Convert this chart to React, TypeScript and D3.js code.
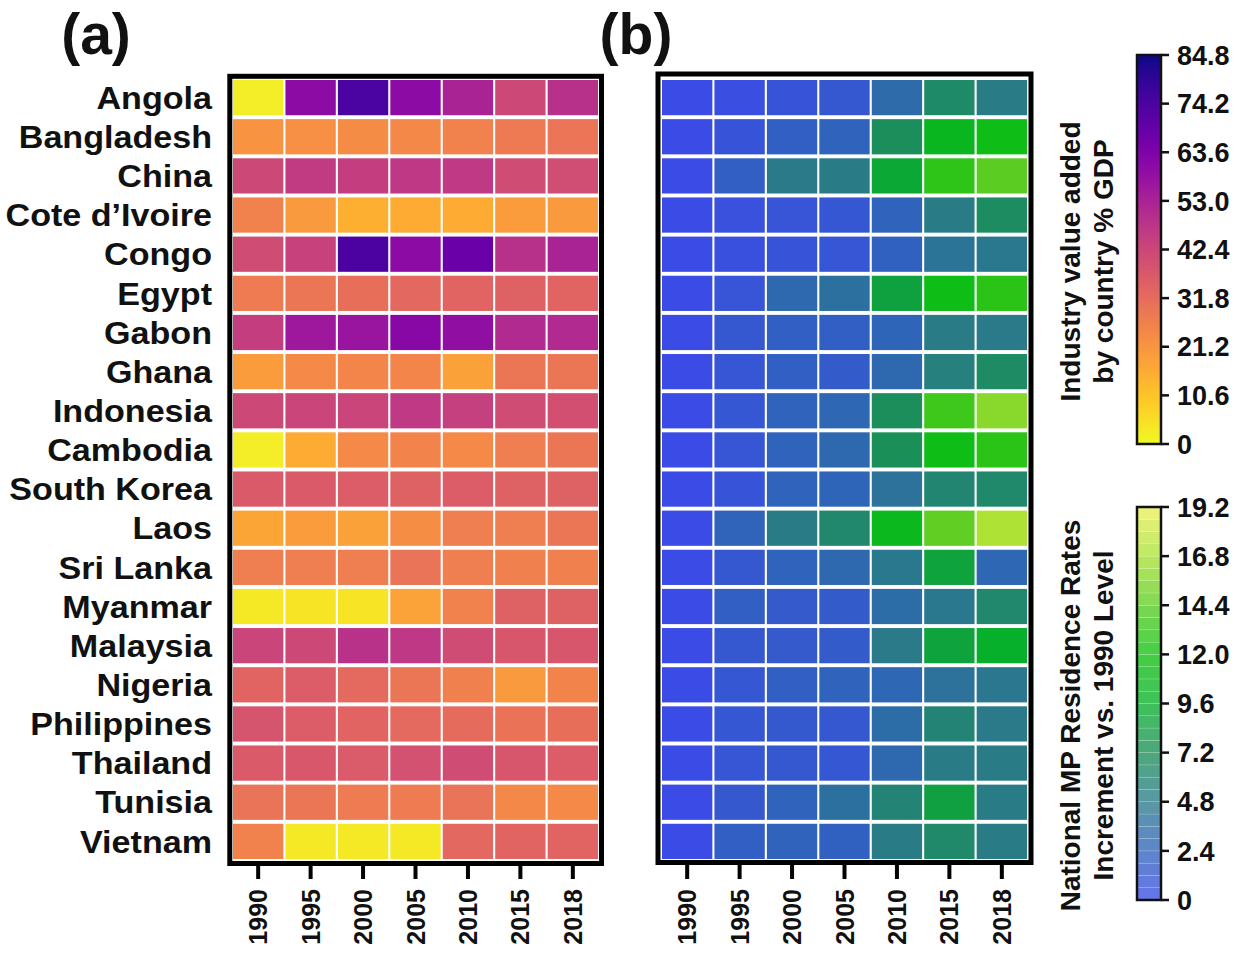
import * as d3 from "d3";

const COUNTRIES = [
  "Angola", "Bangladesh", "China", "Cote d\u2019Ivoire", "Congo", "Egypt", "Gabon",
  "Ghana", "Indonesia", "Cambodia", "South Korea", "Laos", "Sri Lanka", "Myanmar",
  "Malaysia", "Nigeria", "Philippines", "Thailand", "Tunisia", "Vietnam",
];
const YEARS = ["1990", "1995", "2000", "2005", "2010", "2015", "2018"];

// industry value added, % of GDP (panel a)
const INDUSTRY = [
  [2, 60, 74.5, 60, 53, 42, 49],
  [21.5, 22.3, 23.3, 24.5, 26.1, 28.1, 29.3],
  [42, 46, 45, 47, 46.5, 41, 40.7],
  [26, 20, 15, 16, 16, 19.5, 20],
  [41, 44, 74, 60, 68, 49, 53],
  [27.5, 29, 31, 33, 34, 35, 34],
  [45, 56, 57, 61, 59, 51, 51],
  [19.5, 24, 25, 25, 18.5, 29, 29],
  [42, 43, 43, 46.5, 44.5, 41, 40],
  [2, 16, 24, 25.5, 24, 27, 29],
  [37, 37, 36, 35, 36, 35, 35],
  [17.5, 19.5, 18.5, 23, 27, 27, 29],
  [27, 27, 27, 29.5, 27, 26.5, 26.5],
  [3, 4, 4, 18, 26, 35, 35],
  [43, 42, 48.5, 47, 41, 38, 38],
  [34, 36, 32.5, 29, 26.5, 20, 25.5],
  [38.5, 36, 34, 32.5, 32, 30, 31],
  [37, 37.5, 36.5, 39.5, 41, 38, 36],
  [29.5, 29, 27.5, 27.5, 29.5, 24.5, 24],
  [26, 3, 3, 3, 33, 34, 34],
];

// MP residence rate increment vs. 1990 (panel b)
const MP_INCREMENT = [
  [0, 0.3, 0.8, 1.2, 3.2, 6.5, 5],
  [0, 0.8, 2.0, 2.4, 7, 10.5, 11.5],
  [0, 2, 4.8, 5, 9, 13, 14.4],
  [0, 0.5, 0.9, 1.1, 2.4, 5, 6.8],
  [0, 0.4, 0.8, 1.0, 2.2, 4.2, 4.6],
  [0, 0.9, 3, 3.8, 8.5, 11.5, 12.8],
  [0, 1.2, 2, 2, 2.6, 5, 4.8],
  [0, 1, 2, 1.6, 3, 5.4, 6.6],
  [0, 1.1, 2.4, 2.8, 7, 13.5, 15.8],
  [0, 1, 2.4, 3, 7.2, 11.5, 12.8],
  [0, 0.8, 2.4, 2.6, 4, 6, 6.3],
  [0, 2.5, 5, 6.2, 10.8, 14.6, 17],
  [0, 1.2, 2.4, 3, 4.6, 8.6, 2.8],
  [0, 2, 1.5, 1.6, 3.4, 4.6, 6.2],
  [0, 1.2, 1.5, 1.6, 4.8, 8.6, 9.6],
  [0, 1.1, 2, 2.4, 2.8, 4, 4.5],
  [0, 1.1, 1.4, 1.2, 3.4, 5.8, 4.8],
  [0, 1, 1.2, 1.1, 3, 5, 5],
  [0, 1.3, 2.4, 3.8, 5.8, 8.4, 5],
  [0, 2, 2.4, 2.2, 5, 6.4, 5],
];

const GDP_TICKS = [0, 10.6, 21.2, 31.8, 42.4, 53.0, 63.6, 74.2, 84.8];
const MP_TICKS = [0, 2.4, 4.8, 7.2, 9.6, 12.0, 14.4, 16.8, 19.2];
const MP_STOPS = ["#3b4ce6", "#2f63bc", "#2a7a8a", "#1a9058", "#06b02a", "#10c010", "#5acc22", "#a8e232", "#eef058"];

const FONT = "Arial, 'Liberation Sans', Helvetica, sans-serif";
const W = 1250;
const H = 959;

const gdpColor = d3.scaleSequential((t: number) => d3.interpolatePlasma(1 - t)).domain([0, 84.8]);
const mpColor = d3
  .scaleLinear<string>()
  .domain(MP_TICKS)
  .range(MP_STOPS)
  .interpolate(d3.interpolateRgb)
  .clamp(true);

const fmtTick = (v: number) => (v === 0 ? "0" : v.toFixed(1));

const yBand = d3.scaleBand<string>().domain(COUNTRIES).range([80, 859]).paddingInner(0.1);

function Heatmap({ x0, x1, values, color, frame }: {
  x0: number; x1: number; values: number[][]; color: (v: number) => string;
  frame: { x: number; y: number; x2: number; y2: number };
}) {
  const xBand = d3.scaleBand<string>().domain(YEARS).range([x0, x1]).paddingInner(0.04);
  return (
    <g>
      {COUNTRIES.map((c, i) =>
        YEARS.map((yr, j) => (
          <rect key={c + yr} x={xBand(yr)} y={yBand(c)} width={xBand.bandwidth()}
            height={yBand.bandwidth()} fill={color(values[i][j])} />
        ))
      )}
      <rect x={frame.x} y={frame.y} width={frame.x2 - frame.x} height={frame.y2 - frame.y}
        fill="none" stroke="#000" strokeWidth={5} />
      {YEARS.map((yr) => {
        const cx = (xBand(yr) ?? 0) + xBand.bandwidth() / 2;
        return (
          <g key={yr}>
            <line x1={cx} x2={cx} y1={frame.y2} y2={879} stroke="#000" strokeWidth={4} />
            <text transform={`translate(${cx},889) rotate(-90)`} textAnchor="end" dy="0.36em"
              fontSize={25} fontWeight="bold" fontFamily={FONT} fill="#111">{yr}</text>
          </g>
        );
      })}
    </g>
  );
}

function ColorBar({ y0, y1, max, ticks, title, id, stepped }: {
  y0: number; y1: number; max: number; ticks: number[]; title: [string, string]; id: string; stepped: boolean;
}) {
  const x = 1137;
  const w = 24;
  const y = d3.scaleLinear().domain([0, max]).range([y1, y0]);
  const cy = (y0 + y1) / 2 + 12;
  const bands = d3.range(32).map((k) => (k + 0.5) * (max / 32));
  const stops = d3.range(0, 1.0001, 0.05);
  return (
    <g>
      {!stepped && (
        <defs>
          <linearGradient id={id} x1="0" y1="1" x2="0" y2="0">
            {stops.map((t) => (
              <stop key={t} offset={t} stopColor={gdpColor(t * max)} />
            ))}
          </linearGradient>
        </defs>
      )}
      {stepped ? (
        bands.map((v, k) => (
          <rect key={k} x={x} y={y((k + 1) * (max / 32))} width={w} height={y(0) - y(max / 32)}
            fill={mpColor(v)} fillOpacity={0.78} stroke="#fff" strokeOpacity={0.25} strokeWidth={0.6} />
        ))
      ) : (
        <rect x={x} y={y0} width={w} height={y1 - y0} fill={`url(#${id})`} />
      )}
      <rect x={x} y={y0} width={w} height={y1 - y0} fill="none" stroke="#111" strokeWidth={2.5} />
      {ticks.map((t) => (
        <g key={t}>
          <line x1={x + w} x2={x + w + 8} y1={y(t)} y2={y(t)} stroke="#111" strokeWidth={2.5} />
          <text x={x + w + 16} y={y(t)} dy="0.36em" fontSize={27} fontWeight="bold"
            fontFamily={FONT} fill="#111">{fmtTick(t)}</text>
        </g>
      ))}
      <text transform={`translate(1080,${cy}) rotate(-90)`} textAnchor="middle" fontSize={28}
        fontWeight="bold" fontFamily={FONT} fill="#111">{title[0]}</text>
      <text transform={`translate(1113,${cy}) rotate(-90)`} textAnchor="middle" fontSize={28}
        fontWeight="bold" fontFamily={FONT} fill="#111">{title[1]}</text>
    </g>
  );
}

export default function App() {
  return (
    <svg width={W} height={H} viewBox={`0 0 ${W} ${H}`}
      style={{ position: "absolute", left: 0, top: 0, background: "#fff" }}>
      <rect width={W} height={H} fill="#fff" />
      <text x={96} y={54} textAnchor="middle" fontSize={57} fontWeight="bold" fontFamily={FONT} fill="#111">(a)</text>
      <text x={636} y={54} textAnchor="middle" fontSize={57} fontWeight="bold" fontFamily={FONT} fill="#111">(b)</text>

      {COUNTRIES.map((c) => {
        const cy = (yBand(c) ?? 0) + yBand.bandwidth() / 2;
        return (
          <text key={c} transform={`translate(212,${cy}) scale(1.1,1)`} dy="0.36em" textAnchor="end"
            fontSize={31} fontWeight="bold" fontFamily={FONT} fill="#111">{c}</text>
        );
      })}

      <Heatmap x0={233} x1={598} values={INDUSTRY} color={(v) => gdpColor(v)}
        frame={{ x: 229.8, y: 76.3, x2: 601.5, y2: 863.5 }} />
      <Heatmap x0={662} x1={1027} values={MP_INCREMENT} color={(v) => mpColor(v)}
        frame={{ x: 658, y: 74, x2: 1031, y2: 862.5 }} />

      <ColorBar y0={55} y1={444} max={84.8} ticks={GDP_TICKS} id="gdp-grad" stepped={false}
        title={["Industry value added", "by country % GDP"]} />
      <ColorBar y0={507} y1={900} max={19.2} ticks={MP_TICKS} id="mp-grad" stepped={true}
        title={["National MP Residence Rates", "Increment vs. 1990 Level"]} />
    </svg>
  );
}
